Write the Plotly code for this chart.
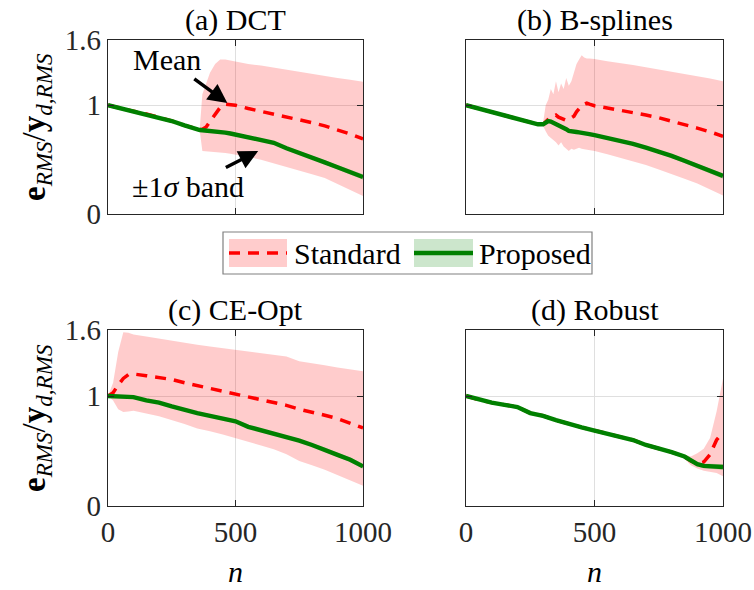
import plotly.graph_objects as go

W, H = 754, 590
FONT = "'Liberation Serif', 'Times New Roman', Times, 'DejaVu Serif', serif"

# ---------------- data ----------------
titles = ["(a) DCT", "(b) B-splines", "(c) CE-Opt", "(d) Robust"]
x_ticks = [0, 500, 1000]
y_ticks = [0, 1, 1.6]
y_ticktext = ["0", "1", "1.6"]

# (a) DCT
n_a = [0, 50, 100, 150, 200, 250, 300, 350, 360, 370, 385, 400, 420, 440, 460, 480,
       500, 550, 600, 650, 700, 750, 800, 850, 900, 950, 1000]
prop_mean_a = [1.0, 0.97, 0.945, 0.92, 0.89, 0.855, 0.815, 0.775, 0.772, 0.770, 0.768, 0.765,
               0.76, 0.755, 0.748, 0.74, 0.73, 0.71, 0.685, 0.655, 0.605, 0.565, 0.52, 0.475,
               0.43, 0.385, 0.34]
prop_sd_a = [0.005, 0.005, 0.005, 0.005, 0.005, 0.005, 0.005, 0.005, 0.005, 0.005, 0.005, 0.005,
             0.005, 0.005, 0.005, 0.005, 0.006, 0.007, 0.008, 0.009, 0.01, 0.012, 0.015, 0.017,
             0.02, 0.022, 0.025]
std_mean_a = [1.0, 0.97, 0.945, 0.92, 0.89, 0.855, 0.815, 0.775, 0.775, 0.78, 0.80, 0.85,
              0.92, 0.98, 1.01, 1.005, 1.0, 0.97, 0.945, 0.92, 0.895, 0.87, 0.84, 0.81,
              0.775, 0.735, 0.69]
std_up_a = [1.005, 0.975, 0.95, 0.925, 0.895, 0.86, 0.82, 0.78, 0.79, 1.10, 1.20, 1.30,
            1.38, 1.42, 1.42, 1.41, 1.40, 1.38, 1.365, 1.345, 1.33, 1.305, 1.29, 1.27,
            1.25, 1.235, 1.215]
std_lo_a = [0.995, 0.965, 0.94, 0.915, 0.885, 0.85, 0.81, 0.77, 0.76, 0.58, 0.578, 0.575,
            0.57, 0.565, 0.56, 0.555, 0.55, 0.525, 0.50, 0.47, 0.435, 0.40, 0.365, 0.33,
            0.275, 0.22, 0.165]

# (b) B-splines
n_b = [0, 50, 100, 150, 200, 250, 280, 300, 310, 320, 330, 340, 350, 360, 370, 380, 390,
       400, 410, 420, 430, 440, 450, 460, 470, 480, 500, 550, 600, 650, 700, 750, 800,
       850, 900, 950, 1000]
prop_mean_b = [1.0, 0.97, 0.935, 0.91, 0.88, 0.85, 0.825, 0.825, 0.84, 0.855, 0.85, 0.84,
               0.83, 0.82, 0.81, 0.795, 0.78, 0.765, 0.758, 0.756, 0.754, 0.75, 0.748, 0.744,
               0.74, 0.735, 0.725, 0.70, 0.675, 0.645, 0.61, 0.575, 0.535, 0.49, 0.44,
               0.395, 0.35]
prop_sd_b = [0.005] * 26 + [0.006, 0.007, 0.008, 0.009, 0.01, 0.012, 0.015, 0.017, 0.02,
                            0.022, 0.025]
std_mean_b = [1.0, 0.97, 0.935, 0.91, 0.88, 0.85, 0.825, 0.825, 0.85, 0.87, 0.885, 0.90,
              0.91, 0.89, 0.88, 0.875, 0.86, 0.87, 0.885, 0.90, 0.94, 0.97, 0.995, 1.01,
              1.02, 1.01, 0.995, 0.975, 0.955, 0.935, 0.91, 0.885, 0.855, 0.825, 0.79,
              0.755, 0.715]
std_up_b = [1.005, 0.975, 0.94, 0.915, 0.885, 0.855, 0.83, 0.84, 1.0, 1.05, 1.15, 1.10,
            1.22, 1.12, 1.20, 1.15, 1.25, 1.18, 1.22, 1.30, 1.38, 1.42, 1.46, 1.44, 1.43,
            1.43, 1.425, 1.405, 1.39, 1.37, 1.35, 1.33, 1.31, 1.29, 1.265, 1.245, 1.22]
std_lo_b = [0.995, 0.965, 0.93, 0.905, 0.875, 0.845, 0.82, 0.81, 0.76, 0.72, 0.70, 0.68,
            0.66, 0.63, 0.66, 0.62, 0.60, 0.58, 0.60, 0.59, 0.60, 0.61, 0.60, 0.595, 0.59,
            0.585, 0.58, 0.55, 0.52, 0.485, 0.45, 0.41, 0.37, 0.325, 0.28, 0.225, 0.17]

# (c) CE-Opt
n_c = [0, 20, 40, 60, 80, 100, 150, 200, 250, 300, 350, 400, 450, 500, 550, 600, 650,
       700, 750, 800, 850, 900, 950, 1000]
prop_mean_c = [1.0, 1.0, 1.0, 0.998, 0.995, 0.99, 0.96, 0.94, 0.905, 0.87, 0.845, 0.82,
               0.795, 0.77, 0.72, 0.69, 0.66, 0.625, 0.595, 0.555, 0.515, 0.465, 0.42, 0.36]
prop_sd_c = [0.004, 0.005, 0.005, 0.005, 0.005, 0.005, 0.005, 0.005, 0.005, 0.006, 0.006,
             0.006, 0.007, 0.007, 0.008, 0.009, 0.01, 0.011, 0.012, 0.014, 0.016, 0.018,
             0.02, 0.022]
std_mean_c = [1.0, 1.03, 1.10, 1.16, 1.195, 1.20, 1.185, 1.17, 1.15, 1.12, 1.095, 1.07,
              1.045, 1.02, 0.995, 0.965, 0.94, 0.915, 0.88, 0.855, 0.825, 0.795, 0.755, 0.71]
std_up_c = [1.0, 1.12, 1.40, 1.58, 1.575, 1.56, 1.54, 1.52, 1.50, 1.48, 1.465, 1.45,
            1.435, 1.42, 1.405, 1.39, 1.375, 1.36, 1.315, 1.30, 1.28, 1.26, 1.245, 1.225]
std_lo_c = [1.0, 0.96, 0.88, 0.855, 0.86, 0.865, 0.84, 0.815, 0.78, 0.745, 0.705, 0.68,
            0.65, 0.615, 0.585, 0.55, 0.515, 0.47, 0.41, 0.37, 0.33, 0.28, 0.235, 0.185]

# (d) Robust
n_d = [0, 50, 100, 150, 200, 250, 300, 350, 400, 450, 500, 550, 600, 650, 700, 750, 800,
       850, 875, 900, 925, 950, 975, 1000]
prop_mean_d = [1.0, 0.965, 0.94, 0.92, 0.90, 0.845, 0.82, 0.78, 0.745, 0.715, 0.686, 0.66,
               0.63, 0.60, 0.555, 0.525, 0.49, 0.45, 0.42, 0.38, 0.365, 0.36, 0.358, 0.355]
prop_sd_d = [0.005, 0.005, 0.005, 0.005, 0.005, 0.005, 0.005, 0.005, 0.005, 0.005, 0.006,
             0.006, 0.006, 0.007, 0.007, 0.008, 0.009, 0.01, 0.015, 0.02, 0.022, 0.024,
             0.025, 0.025]
std_mean_d = [1.0, 0.965, 0.94, 0.92, 0.90, 0.845, 0.82, 0.78, 0.745, 0.715, 0.686, 0.66,
              0.63, 0.60, 0.555, 0.525, 0.49, 0.45, 0.41, 0.385, 0.40, 0.47, 0.60, 0.67]
std_up_d = [1.005, 0.97, 0.945, 0.925, 0.905, 0.85, 0.825, 0.785, 0.75, 0.72, 0.692, 0.666,
            0.637, 0.607, 0.563, 0.535, 0.50, 0.47, 0.45, 0.48, 0.52, 0.62, 0.86, 1.16]
std_lo_d = [0.995, 0.96, 0.935, 0.915, 0.895, 0.84, 0.815, 0.775, 0.74, 0.71, 0.68, 0.654,
            0.623, 0.593, 0.547, 0.515, 0.48, 0.43, 0.37, 0.34, 0.32, 0.31, 0.30, 0.27]

panels = [
    (n_a, std_mean_a, std_up_a, std_lo_a, prop_mean_a, prop_sd_a),
    (n_b, std_mean_b, std_up_b, std_lo_b, prop_mean_b, prop_sd_b),
    (n_c, std_mean_c, std_up_c, std_lo_c, prop_mean_c, prop_sd_c),
    (n_d, std_mean_d, std_up_d, std_lo_d, prop_mean_d, prop_sd_d),
]

# ---------------- layout geometry (pixels) ----------------
col_px = [(108, 363), (466, 723)]
row_px = [(40, 214), (330, 506)]

def px_x(p):
    return p / W

def px_y(p):
    return 1 - p / H

RED_FILL = "rgba(255,0,0,0.2)"
GREEN_FILL = "rgba(0,128,0,0.2)"
RED = "rgb(255,0,0)"
GREEN = "rgb(0,128,0)"

fig = go.Figure()
layout = dict(
    width=W, height=H, margin=dict(l=0, r=0, t=0, b=0, autoexpand=False),
    paper_bgcolor="white", plot_bgcolor="white", showlegend=False,
    font=dict(family=FONT, size=29, color="black"),
)
annotations = []
shapes = []

for i, (n, sm, su, sl, pm, psd) in enumerate(panels):
    r, c = divmod(i, 2)
    xa = "x" if i == 0 else f"x{i+1}"
    ya = "y" if i == 0 else f"y{i+1}"
    xkey = "xaxis" if i == 0 else f"xaxis{i+1}"
    ykey = "yaxis" if i == 0 else f"yaxis{i+1}"
    fig.add_trace(go.Scatter(x=list(n) + list(n)[::-1], y=list(su) + list(sl)[::-1],
                             fill="toself", fillcolor=RED_FILL, line=dict(width=0),
                             mode="lines", hoverinfo="skip", xaxis=xa, yaxis=ya))
    pu = [m + s for m, s in zip(pm, psd)]
    pl = [m - s for m, s in zip(pm, psd)]
    fig.add_trace(go.Scatter(x=list(n) + list(n)[::-1], y=pu + pl[::-1],
                             fill="toself", fillcolor=GREEN_FILL, line=dict(width=0),
                             mode="lines", hoverinfo="skip", xaxis=xa, yaxis=ya))
    fig.add_trace(go.Scatter(x=n, y=sm, mode="lines", name="Standard",
                             line=dict(color=RED, width=3.5, dash="11px,8px"),
                             xaxis=xa, yaxis=ya))
    fig.add_trace(go.Scatter(x=n, y=pm, mode="lines", name="Proposed",
                             line=dict(color=GREEN, width=4.4),
                             xaxis=xa, yaxis=ya))
    x0, x1 = col_px[c]
    y0, y1 = row_px[r]
    common = dict(showline=True, linecolor="#262626", linewidth=1.3, mirror="ticks",
                  ticks="inside", ticklen=6, tickcolor="#262626", tickwidth=1.3,
                  showgrid=True, gridcolor="rgb(223,223,223)", gridwidth=1,
                  zeroline=False, automargin=False,
                  tickfont=dict(family=FONT, size=29, color="#262626"))
    layout[xkey] = dict(common, domain=[px_x(x0), px_x(x1)], range=[0, 1000],
                        tickvals=x_ticks, anchor=ya, showticklabels=(r == 1))
    layout[ykey] = dict(common, domain=[px_y(y1), px_y(y0)], range=[0, 1.6],
                        tickvals=y_ticks, ticktext=y_ticktext, anchor=xa,
                        showticklabels=(c == 0))
    annotations.append(dict(text=titles[i], xref="paper", yref="paper",
                            x=px_x((x0 + x1) / 2), y=px_y(y0 - 20),
                            xanchor="center", yanchor="middle", showarrow=False,
                            font=dict(family=FONT, size=30, color="black")))
    if r == 1:
        annotations.append(dict(text="<i>n</i>", xref="paper", yref="paper",
                                x=px_x((x0 + x1) / 2), y=px_y(571),
                                xanchor="center", yanchor="middle", showarrow=False,
                                font=dict(family=FONT, size=30, color="black")))
    if c == 0:
        annotations.append(dict(
            text="<b>e</b><sub><i>RMS</i></sub>/<b>y</b><sub><i>d,RMS</i></sub>",
            xref="paper", yref="paper", x=px_x(36), y=px_y((y0 + y1) / 2),
            xanchor="center", yanchor="middle", textangle=-90, showarrow=False,
            font=dict(family=FONT, size=33, color="black")))

# annotations with arrows in panel (a)
annotations.append(dict(text="Mean", xref="x", yref="y", x=468, y=1.02, ax=-60, ay=-44,
                        axref="pixel", ayref="pixel", showarrow=True, arrowhead=2,
                        arrowsize=1.1, arrowwidth=3.5, arrowcolor="black", startstandoff=3,
                        font=dict(family=FONT, size=30, color="black")))
annotations.append(dict(text="±1<i>σ</i> band", xref="x", yref="y", x=589, y=0.58,
                        ax=-70, ay=36, axref="pixel", ayref="pixel", showarrow=True,
                        arrowhead=2, arrowsize=1.1, arrowwidth=3.5, arrowcolor="black",
                        startstandoff=3,
                        font=dict(family=FONT, size=30, color="black")))

# manual legend
def rect(x0, y0, x1, y1, **kw):
    return dict(type="rect", xref="paper", yref="paper", x0=px_x(x0), x1=px_x(x1),
                y0=px_y(y1), y1=px_y(y0), **kw)

shapes.append(rect(223, 232, 592, 274, line=dict(color="rgb(128,128,128)", width=1.2),
                   fillcolor="white", layer="above"))
shapes.append(rect(229, 239, 287, 267, line=dict(width=0), fillcolor=RED_FILL, layer="above"))
shapes.append(dict(type="line", xref="paper", yref="paper", x0=px_x(229), x1=px_x(287),
                   y0=px_y(253), y1=px_y(253), layer="above",
                   line=dict(color=RED, width=3.5, dash="11px,8px")))
shapes.append(rect(414, 239, 473, 267, line=dict(width=0), fillcolor=GREEN_FILL, layer="above"))
shapes.append(dict(type="line", xref="paper", yref="paper", x0=px_x(414), x1=px_x(473),
                   y0=px_y(253), y1=px_y(253), layer="above",
                   line=dict(color=GREEN, width=4.4)))
annotations.append(dict(text="Standard", xref="paper", yref="paper", x=px_x(292),
                        y=px_y(253), xanchor="left", yanchor="middle", showarrow=False,
                        font=dict(family=FONT, size=30, color="black")))
annotations.append(dict(text="Proposed", xref="paper", yref="paper", x=px_x(477),
                        y=px_y(253), xanchor="left", yanchor="middle", showarrow=False,
                        font=dict(family=FONT, size=30, color="black")))

layout["annotations"] = annotations
layout["shapes"] = shapes
fig.update_layout(**layout)
fig.write_html("out.html")
